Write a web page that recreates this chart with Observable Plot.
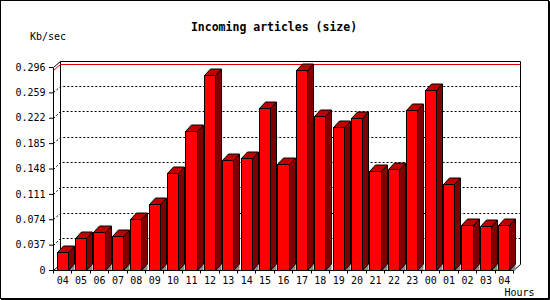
<!DOCTYPE html>
<html>
<head>
<meta charset="utf-8">
<script src="https://cdn.jsdelivr.net/npm/d3@7"></script>
<script src="https://cdn.jsdelivr.net/npm/@observablehq/plot@0.6"></script>
<style>
  html, body { margin: 0; padding: 0; background: #fff; }
  svg { display: block; }
</style>
</head>
<body>
<div id="chart"></div>
<script>
const hours = ["04","05","06","07","08","09","10","11","12","13","14","15","16","17","18","19","20","21","22","23","00","01","02","03","04"];
const sizes = [0.026,0.046,0.055,0.049,0.074,0.096,0.141,0.203,0.284,0.160,0.163,0.236,0.154,0.291,0.225,0.208,0.222,0.144,0.148,0.234,0.262,0.125,0.065,0.064,0.065];
const yTicks = [0,0.037,0.074,0.111,0.148,0.185,0.222,0.259,0.296];
const titleText = "Incoming articles (size)";
const yUnit = "Kb/sec";
const xUnit = "Hours";

const idx = d3.range(hours.length);
const DX = 6, DY = 6.5;     // bar depth (px)
const PX = 7, PY = 6.5;     // panel depth (px)

function depthChart(index, scales, values, dims) {
  const {x, y} = scales;
  const c = v => Math.round(v) + 0.5;
  const g = d3.create("svg:g").attr("fill", "none").attr("stroke", "#000").attr("stroke-width", 1);
  const [L, R] = x.range();
  const B = y(0), T = y(yTicks[yTicks.length - 1]);
  const line = pts => "M" + pts.map(p => p.join(",")).join("L");

  // outer border
  g.append("rect").attr("x", 0.5).attr("y", 0.5).attr("width", dims.width - 2).attr("height", dims.height - 2);
  g.append("path").attr("d", line([[dims.width - 0.5, 1], [dims.width - 0.5, dims.height - 0.5], [1, dims.height - 0.5]]));

  // back panel
  const bl = c(L + PX), br = c(R + PX), bt = c(T - PY), bb = c(B - PY);
  g.append("path").attr("d", line([[bl, bb], [bl, bt], [br, bt], [br, bb]]));
  g.append("path").attr("d", line([[c(L), c(T)], [bl, bt]]));
  g.append("path").attr("d", line([[c(R), c(B)], [br, bb]]));
  g.append("path").attr("d", line([[c(L), c(B)], [bl, bb]]));

  // dotted grid lines on the back wall
  for (const t of yTicks.slice(1, -1)) {
    const yy = y(t);
    g.append("path").attr("stroke-dasharray", "2,2")
      .attr("d", line([[c(L), c(yy)], [bl, c(yy - PY)], [br, c(yy - PY)]]));
  }
  // max value line
  const ym = y(d3.max(sizes));
  g.append("path").attr("stroke", "#e00000")
    .attr("d", line([[c(L), c(ym)], [bl, c(ym - PY)], [br, c(ym - PY)]]));

  // bars
  const bw = x.bandwidth();
  for (const i of idx) {
    const xl = c(x(i)), xr = c(x(i) + bw), y1 = c(y(sizes[i])), y0 = c(B);
    g.append("path").attr("stroke", "none").attr("fill", "#888")
      .attr("d", line([[xr, y0], [xr + DX, y0 - DY], [xr + DX, y0]]) + "Z");
    g.append("path").attr("fill", "#800000")
      .attr("d", line([[xr, y1], [xr + DX, y1 - DY], [xr + DX, y0 - DY], [xr, y0]]) + "Z");
    g.append("path").attr("fill", "#c00000")
      .attr("d", line([[xl, y1], [xl + DX, y1 - DY], [xr + DX, y1 - DY], [xr, y1]]) + "Z");
    g.append("rect").attr("fill", "#ff0000")
      .attr("x", xl).attr("y", y1).attr("width", xr - xl).attr("height", y0 - y1);
  }

  // front axes
  g.append("path").attr("d", line([[c(L), c(T)], [c(L), c(B)], [c(R), c(B)]]));
  const step = x.step();
  for (let k = 0; k <= hours.length; k++) {
    const bx = c(L + k * step);
    g.append("path").attr("d", line([[bx, c(B)], [bx, c(B) + 3]]));
  }
  return g.node();
}

const chart = Plot.plot({
  width: 550,
  height: 300,
  marginLeft: 53,
  marginRight: 37,
  marginTop: 67,
  marginBottom: 30,
  style: {fontFamily: "'DejaVu Sans Mono', monospace", fontSize: "10px", background: "#fff", color: "#000"},
  x: {type: "band", domain: idx, paddingInner: 0.4, paddingOuter: 0.2, align: 0.5, round: false,
      tickFormat: i => hours[i], tickSize: 0, tickPadding: 6, label: null},
  y: {domain: [0, yTicks[yTicks.length - 1]], ticks: yTicks, tickSize: 4, tickPadding: 4,
      tickFormat: d => d === 0 ? "0" : d.toFixed(3), label: null},
  marks: [
    depthChart,
    Plot.text([titleText], {frameAnchor: "top-left", text: d => d, dx: 220.5, dy: -40.5,
      textAnchor: "middle", lineAnchor: "middle", fontWeight: "bold", fontSize: 11.5}),
    Plot.text([yUnit], {frameAnchor: "top-left", text: d => d, dx: -5.5, dy: -30.5,
      textAnchor: "middle", lineAnchor: "middle"}),
    Plot.text([xUnit], {frameAnchor: "bottom-right", text: d => d, dx: 6, dy: 22.5,
      textAnchor: "middle", lineAnchor: "middle"})
  ]
});
document.getElementById("chart").appendChild(chart);
</script>
</body>
</html>
